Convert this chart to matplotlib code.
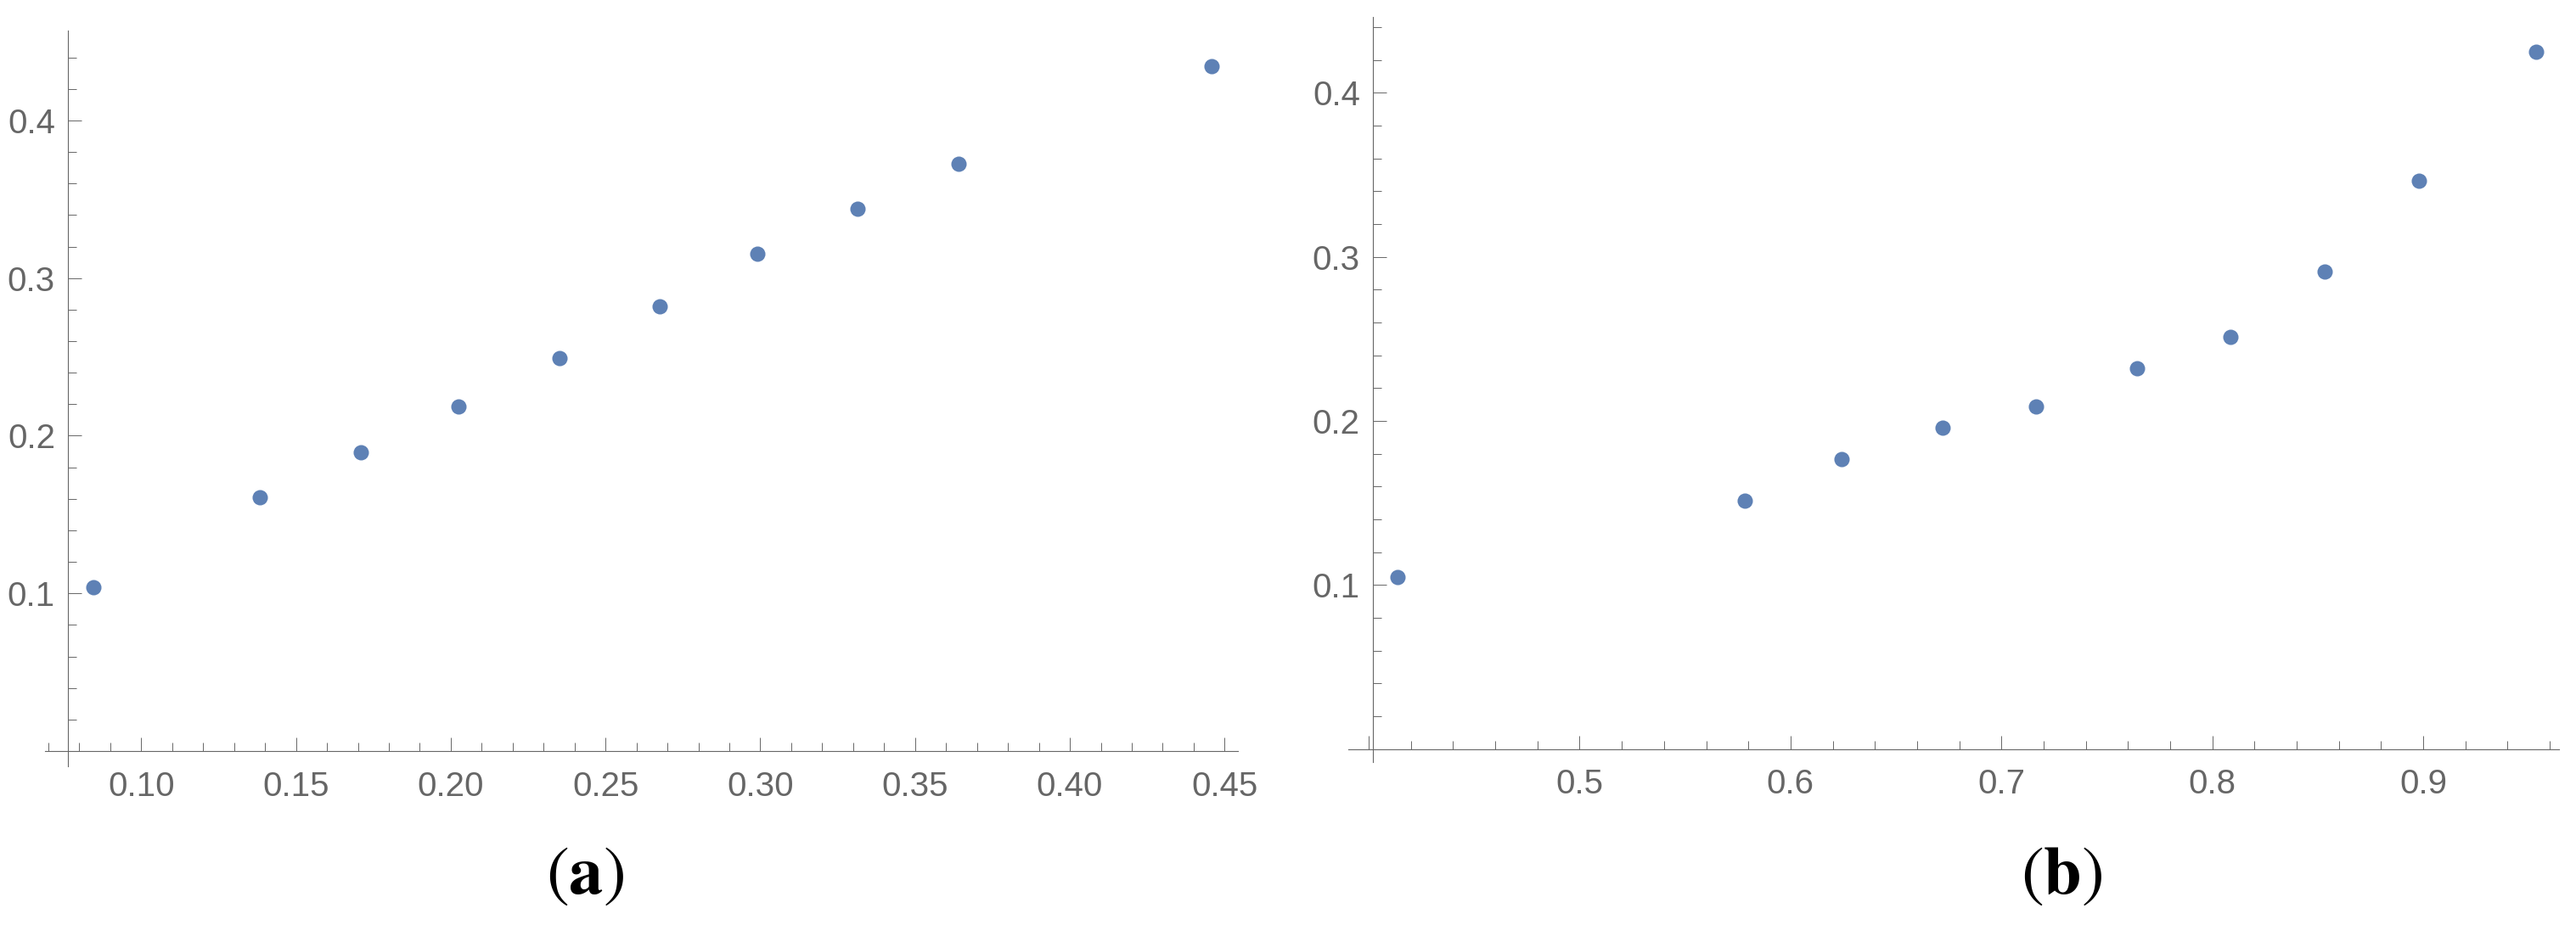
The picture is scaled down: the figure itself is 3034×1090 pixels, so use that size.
import matplotlib
matplotlib.use('Agg')
import matplotlib.pyplot as plt
from matplotlib.ticker import FixedLocator

plt.rcParams['font.family'] = ['Liberation Sans', 'DejaVu Sans']
plt.rcParams['mathtext.fontset'] = 'stix'

# panel (a)
a_x = [0.0845, 0.1383, 0.1710, 0.2025, 0.2350, 0.2675, 0.2990, 0.3315, 0.3641, 0.4459]
a_y = [0.1039, 0.1612, 0.1897, 0.2185, 0.2494, 0.2823, 0.3155, 0.3441, 0.3723, 0.4345]
# panel (b)
b_x = [0.4136, 0.5782, 0.6244, 0.6723, 0.7165, 0.7644, 0.8087, 0.8533, 0.8978, 0.9537]
b_y = [0.1046, 0.1515, 0.1768, 0.1960, 0.2086, 0.2320, 0.2511, 0.2911, 0.3464, 0.4248]

a_xticks = [0.10, 0.15, 0.20, 0.25, 0.30, 0.35, 0.40, 0.45]
a_xlabels = ['0.10', '0.15', '0.20', '0.25', '0.30', '0.35', '0.40', '0.45']
a_xminor = [0.07, 0.08, 0.09, 0.11, 0.12, 0.13, 0.14, 0.16, 0.17, 0.18, 0.19,
            0.21, 0.22, 0.23, 0.24, 0.26, 0.27, 0.28, 0.29, 0.31, 0.32, 0.33, 0.34,
            0.36, 0.37, 0.38, 0.39, 0.41, 0.42, 0.43, 0.44]
b_xticks = [0.4, 0.5, 0.6, 0.7, 0.8, 0.9]
b_xlabels = ['', '0.5', '0.6', '0.7', '0.8', '0.9']
b_xminor = [0.42, 0.44, 0.46, 0.48, 0.52, 0.54, 0.56, 0.58, 0.62, 0.64, 0.66, 0.68,
            0.72, 0.74, 0.76, 0.78, 0.82, 0.84, 0.86, 0.88, 0.92, 0.94, 0.96]
yticks = [0.1, 0.2, 0.3, 0.4]
ylabels = ['0.1', '0.2', '0.3', '0.4']
yminor = [0.02, 0.04, 0.06, 0.08, 0.12, 0.14, 0.16, 0.18, 0.22, 0.24, 0.26, 0.28,
          0.32, 0.34, 0.36, 0.38, 0.42, 0.44]

dot = '#5E81B5'
gray = '#666666'

fig = plt.figure(figsize=(30.34, 10.90), dpi=100)


def panel(rect, xs, ys, xlim, ylim, ycross, xt, xl, xm):
    ax = fig.add_axes(rect)
    ax.plot(xs, ys, 'o', color=dot, markersize=13, markeredgewidth=0, clip_on=False)
    ax.set_xlim(xlim)
    ax.set_ylim(ylim)
    ax.spines['top'].set_visible(False)
    ax.spines['right'].set_visible(False)
    ax.spines['bottom'].set_position(('data', 0))
    ax.spines['left'].set_position(('data', ycross))
    for s in ('bottom', 'left'):
        ax.spines[s].set_color(gray)
        ax.spines[s].set_linewidth(0.8)
    ax.xaxis.set_major_locator(FixedLocator(xt))
    ax.set_xticklabels(xl)
    ax.xaxis.set_minor_locator(FixedLocator(xm))
    ax.yaxis.set_major_locator(FixedLocator(yticks))
    ax.set_yticklabels(ylabels)
    ax.yaxis.set_minor_locator(FixedLocator(yminor))
    ax.tick_params(which='both', direction='in', color=gray, width=0.7,
                   labelcolor=gray, labelsize=29)
    ax.tick_params(which='major', length=11.3)
    ax.tick_params(which='minor', length=7.2)
    ax.tick_params(axis='x', which='major', pad=16.5)
    ax.tick_params(axis='y', which='major', pad=10.8)
    ax.patch.set_alpha(0)
    return ax


panel([53 / 3034, (1090 - 903) / 1090, 1405 / 3034, 867 / 1090],
      a_x, a_y, (0.0689, 0.4543), (-0.0097, 0.457), 0.0763,
      a_xticks, a_xlabels, a_xminor)
panel([1588 / 3034, (1090 - 898) / 1090, 1426 / 3034, 878 / 1090],
      b_x, b_y, (0.3903, 0.9644), (-0.0080, 0.4462), 0.4019,
      b_xticks, b_xlabels, b_xminor)

fig.text(689 / 3034, 1 - 1032 / 1090, r'$(\mathbf{a})$', ha='center', va='center',
         fontsize=58, color='black')
fig.text(2428 / 3034, 1 - 1032 / 1090, r'$(\mathbf{b})$', ha='center', va='center',
         fontsize=58, color='black')

fig.savefig('out.png', dpi=100, facecolor='white')
